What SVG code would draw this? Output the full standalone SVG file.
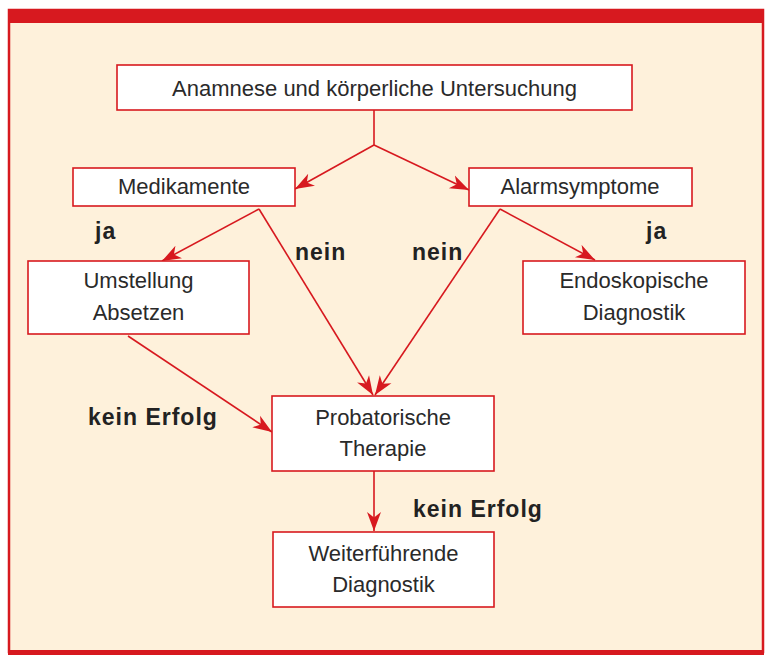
<svg xmlns="http://www.w3.org/2000/svg" width="766" height="655" viewBox="0 0 766 655">
<style>
.box{fill:#ffffff;stroke:#d7191f;stroke-width:1.6}
.t{font-family:"Liberation Sans",Arial,sans-serif;font-size:22px;fill:#2a2a2a;text-anchor:middle}
.lbl{font-family:"Liberation Sans",Arial,sans-serif;font-size:23px;font-weight:bold;fill:#222222;letter-spacing:1px}
.c{fill:none;stroke:#d7191f;stroke-width:1.6}
</style>
<defs>
<marker id="ah" markerUnits="userSpaceOnUse" markerWidth="22" markerHeight="16" refX="19" refY="7.5" orient="auto">
<path d="M0,0.5 L19,7.5 L0,14.5 L5.5,7.5 z" fill="#d7191f"/>
</marker>
</defs>
<rect x="9" y="10" width="754" height="642" fill="#fef1db" stroke="#d7191f" stroke-width="2.5"/>
<rect x="8" y="10" width="756" height="13" fill="#d7191f"/>
<rect x="8" y="650" width="756" height="5" fill="#d7191f"/>
<g id="connectors">
<path class="c" d="M374,110 L374,145"/>
<path class="c" d="M374,145 L295,189" marker-end="url(#ah)"/>
<path class="c" d="M374,145 L469,190" marker-end="url(#ah)"/>
<path class="c" d="M259,209 L162,261" marker-end="url(#ah)"/>
<path class="c" d="M259,209 L373,395" marker-end="url(#ah)"/>
<path class="c" d="M500,209 L375,395" marker-end="url(#ah)"/>
<path class="c" d="M500,209 L595,260" marker-end="url(#ah)"/>
<path class="c" d="M128,336 L272,432" marker-end="url(#ah)"/>
<path class="c" d="M374,471 L374,531" marker-end="url(#ah)"/>
</g>
<g id="n-anamnese">
<rect class="box" x="117" y="65" width="515" height="45"/>
<text class="t" x="374.5" y="96">Anamnese und körperliche Untersuchung</text>
</g>
<g id="n-medikamente">
<rect class="box" x="73" y="168" width="222" height="38"/>
<text class="t" x="184" y="194">Medikamente</text>
</g>
<g id="n-alarm">
<rect class="box" x="469" y="168" width="223" height="38"/>
<text class="t" x="580" y="194">Alarmsymptome</text>
</g>
<g id="n-umstellung">
<rect class="box" x="28" y="261" width="221" height="73"/>
<text class="t" x="138.5" y="288">Umstellung</text>
<text class="t" x="138.5" y="320">Absetzen</text>
</g>
<g id="n-endoskopie">
<rect class="box" x="523" y="261" width="222" height="73"/>
<text class="t" x="634" y="288">Endoskopische</text>
<text class="t" x="634" y="320">Diagnostik</text>
</g>
<g id="n-probatorisch">
<rect class="box" x="272" y="396" width="222" height="75"/>
<text class="t" x="383" y="425">Probatorische</text>
<text class="t" x="383" y="456">Therapie</text>
</g>
<g id="n-weiter">
<rect class="box" x="273" y="532" width="221" height="75"/>
<text class="t" x="383.5" y="561">Weiterführende</text>
<text class="t" x="383.5" y="592">Diagnostik</text>
</g>
<g id="labels">
<text class="lbl" x="95" y="239">ja</text>
<text class="lbl" x="295" y="260">nein</text>
<text class="lbl" x="412" y="260">nein</text>
<text class="lbl" x="646" y="239">ja</text>
<text class="lbl" x="88" y="425">kein Erfolg</text>
<text class="lbl" x="413" y="517">kein Erfolg</text>
</g>
</svg>
